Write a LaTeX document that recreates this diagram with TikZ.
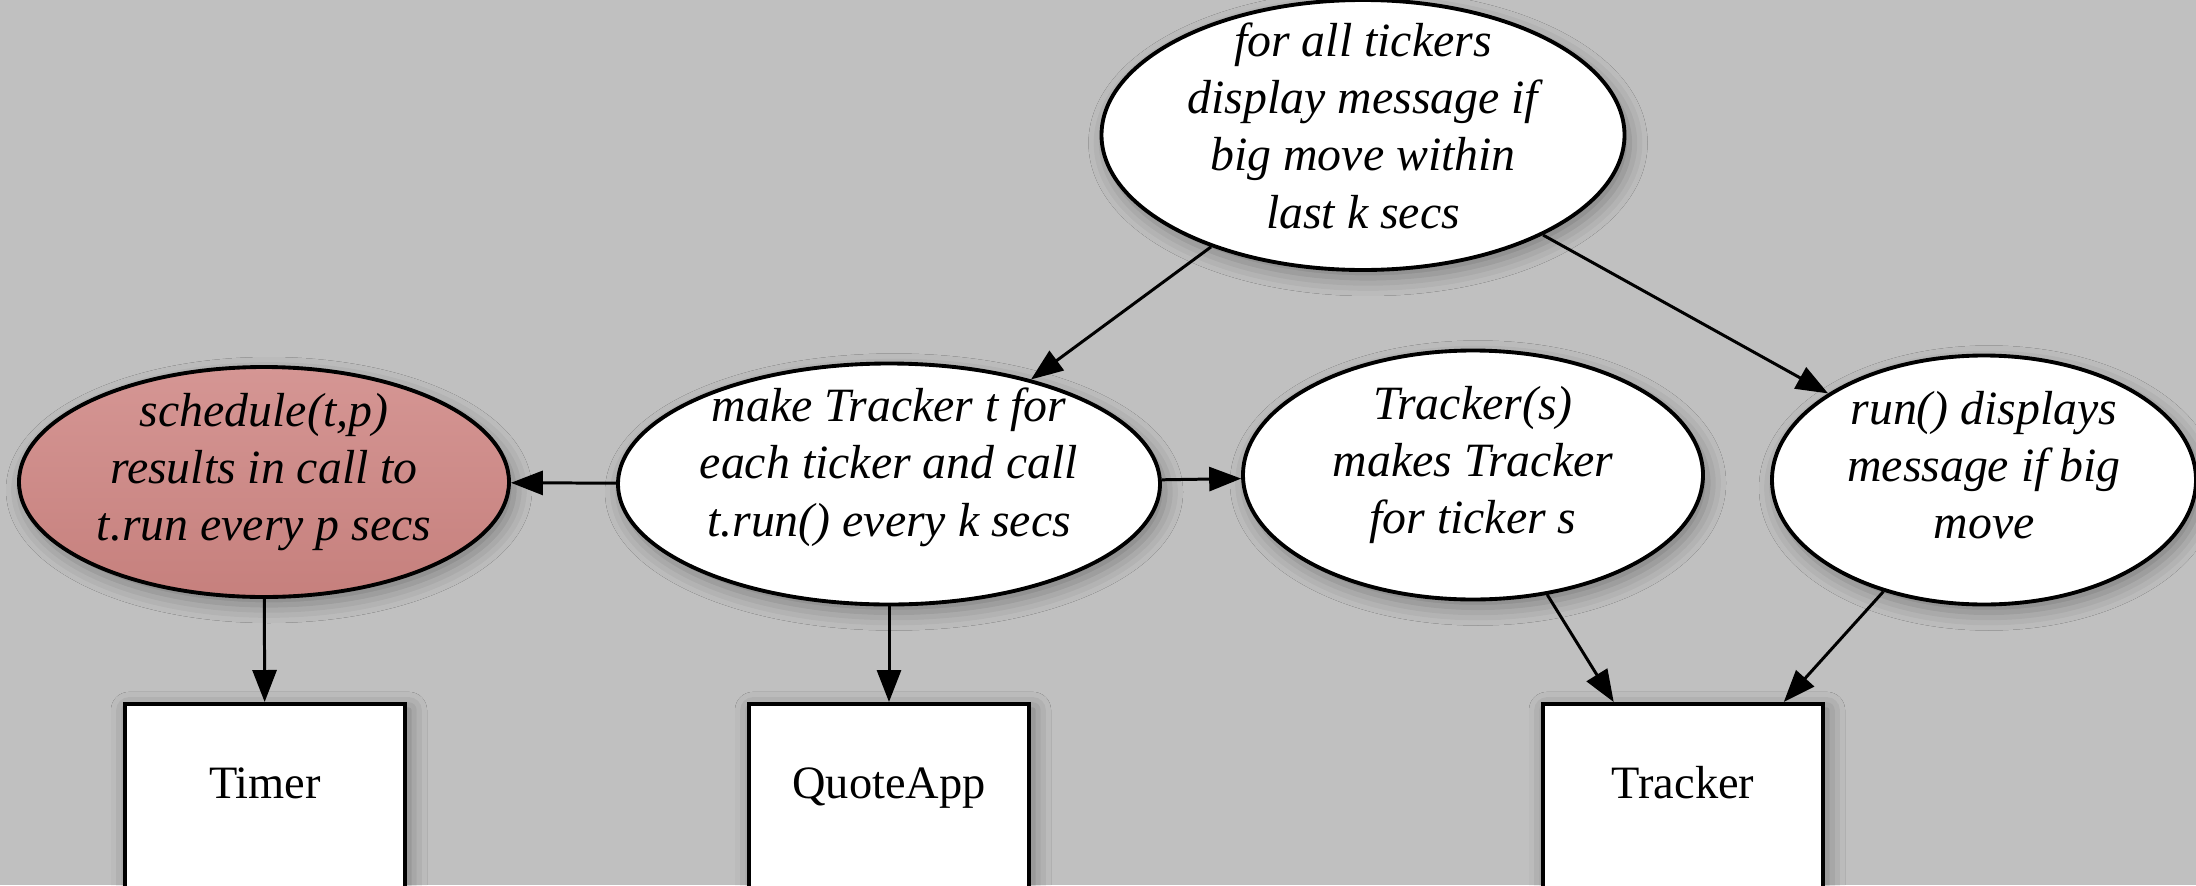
\documentclass[tikz,border=0pt]{standalone}
\usepackage{fontspec}
\setmainfont{Liberation Serif}
\usetikzlibrary{arrows.meta,shapes.geometric,shadows.blur}

\definecolor{bggray}{RGB}{192,192,192}
\definecolor{rosetop}{RGB}{213,150,148}
\definecolor{rosebot}{RGB}{198,128,125}

\begin{document}
\begin{tikzpicture}[
  idea/.style = {ellipse, draw, line width=1.1pt, fill=white, inner xsep=0pt, inner ysep=-0.35cm,
                 align=center, text depth=0.3cm,
                 font=\itshape\fontsize{13.6}{16.3}\selectfont,
                 blur shadow={shadow xshift=0.5mm, shadow yshift=-0.8mm,
                              shadow blur radius=1.8mm, shadow opacity=35}},
  cls/.style  = {rectangle, draw, line width=1.1pt, fill=white, anchor=north,
                 minimum width=2.8cm, inner ysep=0pt, text height=0.95cm, text depth=1.25cm,
                 font=\fontsize{13.2}{16}\selectfont,
                 blur shadow={shadow xshift=0.4mm, shadow yshift=-0.6mm,
                              shadow blur radius=1.8mm, shadow opacity=40}},
  flow/.style = {line width=0.85pt, -{Triangle[length=3.2mm, width=2.4mm]}}
]
 \fill[bggray] (0,0) rectangle (21.96,8.85);
 \useasboundingbox (0,0) rectangle (21.96,8.85);

 % the ellipses
 \node[idea, minimum width=5.23cm, minimum height=2.70cm, text depth=0.19cm] (all) at (13.63,7.50)
   {for all tickers\\ display message if\\ big move within\\ last k secs};
 \node[idea, minimum width=5.42cm, minimum height=2.41cm, text depth=0.44cm] (make) at (8.89,4.01)
   {make Tracker t for\\ each ticker and call\\ t.run() every k secs};
 \node[idea, top color=rosetop, bottom color=rosebot,
       minimum width=4.90cm, minimum height=2.30cm] (sched) at (2.64,4.03)
   {schedule(t,p)\\ results in call to\\ t.run every p secs};
 \node[idea, minimum width=4.60cm, minimum height=2.49cm] (ctor) at (14.73,4.10)
   {Tracker(s)\\ makes Tracker\\ for ticker s};
 \node[idea, minimum width=4.24cm, minimum height=2.49cm] (runit) at (19.84,4.05)
   {run() displays\\ message if big\\ move};

 % the classes, cut off at the bottom
 \begin{scope}
  \clip (0,0) rectangle (21.96,8.85);
  \node[cls] (timer) at (2.65,1.83) {Timer};
  \node[cls] (quote) at (8.89,1.83) {QuoteApp};
  \node[cls] (track) at (16.83,1.83) {Tracker};
 \end{scope}

 \draw[flow] (all) -- (make);
 \draw[flow] (all) -- (runit);
 \draw[flow] (make) -- (sched);
 \draw[flow] (make) -- (ctor);
 \draw[flow] (sched) -- (timer);
 \draw[flow] (make) -- (quote);
 \draw[flow] (ctor) -- (track);
 \draw[flow] (runit) -- (track);
\end{tikzpicture}
\end{document}
